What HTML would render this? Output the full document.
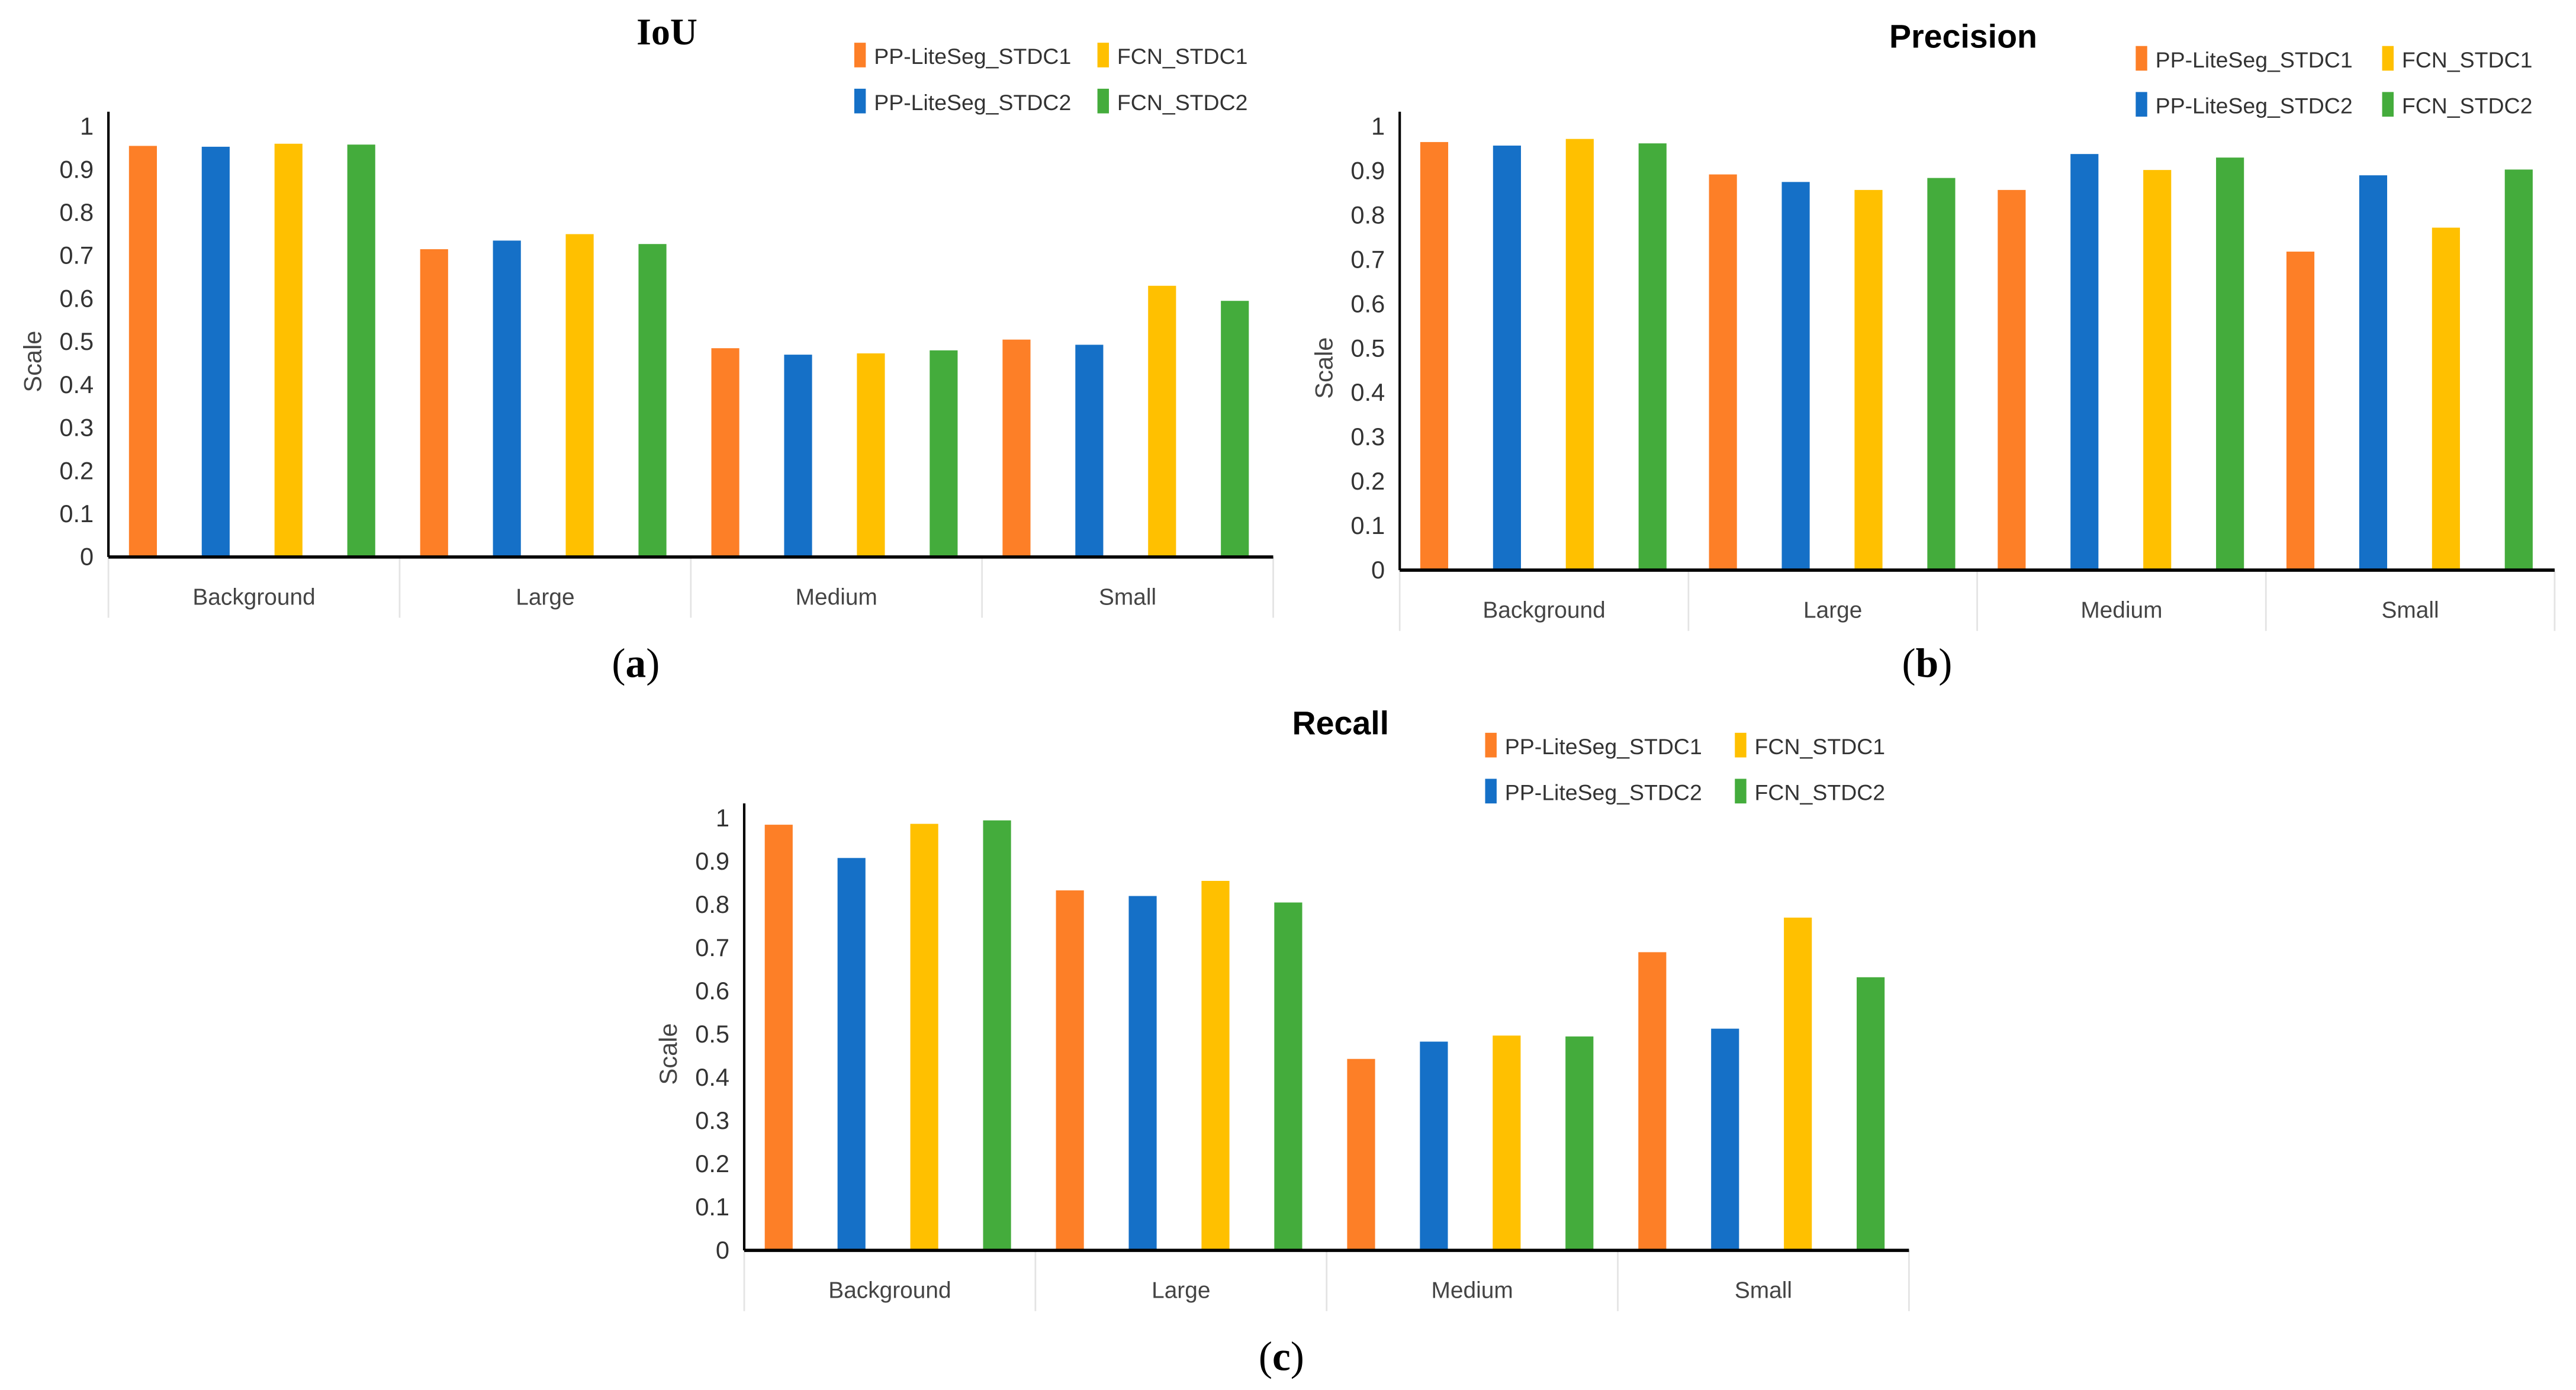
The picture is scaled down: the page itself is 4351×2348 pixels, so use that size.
<!DOCTYPE html>
<html><head><meta charset="utf-8"><style>
html,body{margin:0;padding:0;background:#fff;}
svg{display:block;}
</style></head><body>
<svg id="fig" width="4351" height="2348" viewBox="0 0 1568 846" preserveAspectRatio="none" xmlns="http://www.w3.org/2000/svg" font-family="Liberation Sans, sans-serif"></svg>
<script>
const categories = ["Background","Large","Medium","Small"];
const seriesNames = ["PP-LiteSeg_STDC1","PP-LiteSeg_STDC2","FCN_STDC1","FCN_STDC2"];
const seriesColors = ["#fd7f27","#1570c7","#ffc000","#44ac3c"];
const yTicks = [0,0.1,0.2,0.3,0.4,0.5,0.6,0.7,0.8,0.9,1];
const yTickLabels = ["0","0.1","0.2","0.3","0.4","0.5","0.6","0.7","0.8","0.9","1"];
const iouValues = [[0.955,0.715,0.485,0.505],[0.953,0.735,0.47,0.493],[0.96,0.75,0.473,0.63],[0.958,0.727,0.48,0.595]];
const precisionValues = [[0.965,0.892,0.857,0.718],[0.957,0.875,0.938,0.89],[0.972,0.857,0.902,0.772],[0.962,0.884,0.93,0.903]];
const recallValues = [[0.985,0.833,0.443,0.69],[0.908,0.82,0.483,0.513],[0.987,0.855,0.497,0.77],[0.995,0.805,0.495,0.632]];

const NS="http://www.w3.org/2000/svg";
const svg=document.getElementById('fig');
function mk(tag,attrs,parent){const e=document.createElementNS(NS,tag);for(const k in attrs)e.setAttribute(k,attrs[k]);(parent||svg).appendChild(e);return e;}

function chart(cfg,values){
  const g=mk('g',{});
  
  
  const y=v=>cfg.y0-(cfg.y0-cfg.y1)*v;
  const bandW=(cfg.xR-cfg.x0)/categories.length;
  for(let i=0;i<=categories.length;i++){
    const l=mk('line',{x1:cfg.x0+i*bandW,x2:cfg.x0+i*bandW,y1:cfg.y0,y2:cfg.y0+37,stroke:'#e4e4e4','stroke-width':1},g);
    
    
  }
  values.forEach((ser,si)=>{
    ser.forEach((v,ci)=>{
      const cx=cfg.x0+ci*bandW+21+si*44.3;
      const r=mk('rect',{x:cx-8.5,y:y(v),width:17,height:cfg.y0-y(v),fill:seriesColors[si]},g);
      
      
    });
  });
  const ya=mk('line',{x1:cfg.x0,x2:cfg.x0,y1:cfg.y1-9,y2:cfg.y0,stroke:'#000','stroke-width':1.5},g);
  
  
  const xa=mk('line',{x1:cfg.x0,x2:cfg.xR,y1:cfg.y0,y2:cfg.y0,stroke:'#000','stroke-width':2},g);
  
  
  yTicks.forEach((t,i)=>{
    const tx=mk('text',{x:cfg.x0-9,y:y(t)+5,'text-anchor':'end','font-size':15,fill:'#333'},g);
    tx.textContent=yTickLabels[i];
    
    
  });
  categories.forEach((c,i)=>{
    const tx=mk('text',{x:cfg.x0+(i+0.5)*bandW,y:cfg.y0+29,'text-anchor':'middle','font-size':14,fill:'#444'},g);
    tx.textContent=c;
    
    
  });
  const yt=mk('text',{x:0,y:0,'text-anchor':'middle','font-size':15,fill:'#444',transform:`translate(${cfg.x0-41},${(cfg.y0+cfg.y1)/2+12}) rotate(-90)`},g);
  yt.textContent='Scale';
  
  
  const ti=mk('text',{x:cfg.tx,y:cfg.ty,'text-anchor':'middle','font-size':cfg.serif?23:20,'font-weight':'bold',fill:'#000','font-family':cfg.serif?'Liberation Serif, serif':'Liberation Sans, sans-serif'},g);
  ti.textContent=cfg.title;
  
  
  const lx=[cfg.lx,cfg.lx2], ly=[cfg.ly,cfg.ly+28];
  const pos=[[0,0],[0,1],[1,0],[1,1]];
  seriesNames.forEach((n,si)=>{
    const [c,r]=pos[si];
    const sw=mk('rect',{x:lx[c],y:ly[r]-8,width:7,height:15,fill:seriesColors[si]},g);
    
    
    const t=mk('text',{x:lx[c]+12,y:ly[r]+5,'font-size':13.5,fill:'#333'},g);
    t.textContent=n;
    
    
  });
  const lab=mk('text',{x:cfg.labx,y:cfg.laby,'text-anchor':'middle','font-size':25,fill:'#000','font-family':'Liberation Serif, serif'},g);
  
  
  const t1=mk('tspan',{},lab); t1.textContent='(';
  const t2=mk('tspan',{'font-weight':'bold'},lab); t2.textContent=cfg.letter;
  const t3=mk('tspan',{},lab); t3.textContent=')';
}

chart({name:'iou-chart',x0:66,xR:775,y0:339,y1:77,title:'IoU',serif:true,tx:406,ty:27,lx:520,lx2:668,ly:34,labx:387,laby:412,letter:'a'},iouValues);
chart({name:'precision-chart',x0:852,xR:1555,y0:347,y1:77,title:'Precision',tx:1195,ty:29,lx:1300,lx2:1450,ly:36,labx:1173,laby:412,letter:'b'},precisionValues);
chart({name:'recall-chart',x0:453,xR:1162,y0:761,y1:498,title:'Recall',tx:816,ty:447,lx:904,lx2:1056,ly:454,labx:780,laby:834,letter:'c'},recallValues);
</script>
</body></html>
